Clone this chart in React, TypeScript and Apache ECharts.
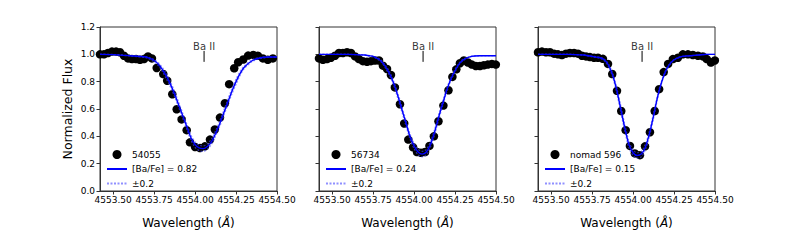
import React, { useEffect, useRef } from "react";
import * as echarts from "echarts";

// ---------- data ----------
const X_TICKS = [4553.5, 4553.75, 4554.0, 4554.25, 4554.5];
const BA_II_WAVE = 4554.055;

const MODEL_WAVE = [
  4553.42, 4553.5, 4553.6, 4553.7, 4553.725, 4553.75, 4553.775, 4553.8, 4553.825, 4553.85,
  4553.875, 4553.9, 4553.925, 4553.95, 4553.975, 4554.0, 4554.025, 4554.05, 4554.075, 4554.1,
  4554.125, 4554.15, 4554.175, 4554.2, 4554.225, 4554.25, 4554.275, 4554.3, 4554.35, 4554.4,
  4554.45, 4554.5,
];

// Panel 1: 54055
const OBS1_WAVE = [
  4553.42, 4553.444, 4553.469, 4553.493, 4553.518, 4553.542, 4553.566, 4553.591, 4553.615, 4553.64,
  4553.664, 4553.688, 4553.713, 4553.737, 4553.766, 4553.806, 4553.83, 4553.861, 4553.888, 4553.918,
  4553.949, 4553.969, 4554.0, 4554.03, 4554.06, 4554.091, 4554.121, 4554.152, 4554.182, 4554.208,
  4554.239, 4554.263, 4554.294, 4554.324, 4554.355, 4554.383, 4554.414, 4554.444, 4554.475,
];
const OBS1_FLUX = [
  1.0, 1.0, 1.01, 1.02, 1.02, 1.015, 0.99, 0.97, 0.965, 0.965,
  0.96, 0.965, 0.985, 0.97, 0.9, 0.856, 0.807, 0.708, 0.598, 0.524,
  0.445, 0.356, 0.322, 0.315, 0.327, 0.376, 0.45, 0.537, 0.642, 0.782,
  0.898, 0.942, 0.962, 0.991, 0.996, 0.99, 0.97, 0.96, 0.97,
];
const MODEL1 = [
  1.0, 0.998, 0.99, 0.98, 0.97, 0.955, 0.93, 0.89, 0.84, 0.78,
  0.71, 0.63, 0.55, 0.47, 0.39, 0.34, 0.315, 0.31, 0.325, 0.36,
  0.42, 0.49, 0.57, 0.65, 0.73, 0.8, 0.86, 0.905, 0.955, 0.975,
  0.98, 0.98,
];
const BAND1_HI = [
  1.0, 0.999, 0.992, 0.983, 0.975, 0.962, 0.94, 0.905, 0.86, 0.8,
  0.73, 0.65, 0.57, 0.49, 0.41, 0.36, 0.335, 0.33, 0.345, 0.38,
  0.44, 0.51, 0.59, 0.67, 0.75, 0.82, 0.875, 0.915, 0.962, 0.978,
  0.982, 0.982,
];
const BAND1_LO = [
  1.0, 0.997, 0.988, 0.975, 0.963, 0.945, 0.918, 0.875, 0.82, 0.76,
  0.69, 0.61, 0.53, 0.45, 0.37, 0.32, 0.295, 0.29, 0.305, 0.34,
  0.4, 0.47, 0.55, 0.63, 0.71, 0.78, 0.845, 0.895, 0.948, 0.97,
  0.978, 0.978,
];

// Panel 2: 56734
const OBS2_WAVE = [
  4553.42, 4553.444, 4553.469, 4553.493, 4553.518, 4553.542, 4553.566, 4553.591, 4553.615, 4553.64,
  4553.664, 4553.688, 4553.713, 4553.737, 4553.762, 4553.786, 4553.81, 4553.835, 4553.859, 4553.883,
  4553.914, 4553.94, 4553.965, 4553.994, 4554.018, 4554.042, 4554.067, 4554.094, 4554.121, 4554.149,
  4554.179, 4554.21, 4554.234, 4554.258, 4554.28, 4554.304, 4554.329, 4554.353, 4554.377, 4554.402,
  4554.426, 4554.45, 4554.475, 4554.499,
];
const OBS2_FLUX = [
  0.97, 0.96, 0.965, 0.975, 0.99, 1.01, 1.01, 1.015, 1.01, 0.985,
  0.965, 0.95, 0.945, 0.95, 0.955, 0.955, 0.917, 0.893, 0.849, 0.758,
  0.635, 0.494, 0.376, 0.32, 0.285, 0.28, 0.285, 0.33, 0.4, 0.51,
  0.625, 0.737, 0.835, 0.89, 0.935, 0.955, 0.94, 0.925, 0.915, 0.915,
  0.92, 0.925, 0.93, 0.925,
];
const MODEL2 = [
  1.0, 1.0, 1.0, 0.995, 0.99, 0.985, 0.97, 0.95, 0.91, 0.86,
  0.79, 0.7, 0.6, 0.5, 0.4, 0.33, 0.285, 0.27, 0.285, 0.34,
  0.43, 0.54, 0.64, 0.74, 0.82, 0.88, 0.93, 0.96, 0.985, 0.99,
  0.99, 0.99,
];
const BAND2_HI = [
  1.0, 1.0, 1.0, 0.996, 0.992, 0.988, 0.975, 0.957, 0.92, 0.875,
  0.805, 0.72, 0.62, 0.52, 0.42, 0.35, 0.305, 0.29, 0.305, 0.36,
  0.45, 0.56, 0.66, 0.755, 0.83, 0.89, 0.935, 0.965, 0.987, 0.991,
  0.991, 0.991,
];
const BAND2_LO = [
  1.0, 1.0, 0.999, 0.994, 0.988, 0.982, 0.965, 0.943, 0.9, 0.845,
  0.775, 0.68, 0.58, 0.48, 0.38, 0.31, 0.265, 0.25, 0.265, 0.32,
  0.41, 0.52, 0.625, 0.725, 0.81, 0.87, 0.925, 0.955, 0.983, 0.989,
  0.99, 0.99,
];

// Panel 3: nomad 596
const OBS3_WAVE = [
  4553.42, 4553.444, 4553.469, 4553.493, 4553.518, 4553.542, 4553.566, 4553.591, 4553.615, 4553.64,
  4553.664, 4553.688, 4553.713, 4553.737, 4553.762, 4553.786, 4553.816, 4553.847, 4553.873, 4553.902,
  4553.928, 4553.955, 4553.981, 4554.011, 4554.042, 4554.073, 4554.103, 4554.132, 4554.159, 4554.187,
  4554.214, 4554.243, 4554.274, 4554.304, 4554.335, 4554.365, 4554.396, 4554.426, 4554.45, 4554.475,
  4554.499,
];
const OBS3_FLUX = [
  1.015, 1.02, 1.015, 1.015, 1.005, 1.0, 0.995, 1.005, 1.01, 1.01,
  1.005, 0.99, 0.985, 0.98, 0.975, 0.975, 0.967, 0.93, 0.856, 0.733,
  0.585, 0.445, 0.33, 0.275, 0.262, 0.327, 0.43, 0.585, 0.745, 0.87,
  0.93, 0.965, 0.975, 1.0, 1.0, 0.995, 0.99, 0.985, 0.965, 0.94,
  0.955,
];
const MODEL3 = [
  1.0, 1.0, 1.0, 0.995, 0.99, 0.985, 0.98, 0.975, 0.96, 0.92,
  0.85, 0.74, 0.6, 0.46, 0.34, 0.28, 0.26, 0.27, 0.32, 0.42,
  0.55, 0.69, 0.8, 0.88, 0.93, 0.96, 0.975, 0.985, 0.99, 0.995,
  1.0, 1.0,
];
const BAND3_HI = [
  1.0, 1.0, 1.0, 0.996, 0.992, 0.988, 0.983, 0.978, 0.965, 0.93,
  0.865, 0.76, 0.625, 0.485, 0.365, 0.3, 0.28, 0.29, 0.34, 0.44,
  0.57, 0.705, 0.81, 0.885, 0.935, 0.962, 0.977, 0.986, 0.991, 0.995,
  1.0, 1.0,
];
const BAND3_LO = [
  1.0, 1.0, 1.0, 0.994, 0.988, 0.982, 0.977, 0.97, 0.953, 0.91,
  0.835, 0.72, 0.575, 0.435, 0.315, 0.26, 0.24, 0.25, 0.3, 0.4,
  0.53, 0.675, 0.79, 0.875, 0.925, 0.958, 0.973, 0.984, 0.989, 0.995,
  1.0, 1.0,
];

const STAR_NAMES = ["54055", "56734", "nomad 596"];
const BA_FE = ["0.82", "0.24", "0.15"];
const BAND_LABEL = "±0.2";

// ---------- chart ----------
const FONT = "DejaVu Sans";
const AXIS_COLOR = "#333";
const BAND_COLOR = "rgba(70,70,255,0.6)";

const zip = (xs: number[], ys: number[]) => xs.map((x, i) => [x, ys[i]]);

export default function App() {
  const ref = useRef<HTMLDivElement>(null);

  useEffect(() => {
    if (!ref.current) return;
    const chart = echarts.init(ref.current, undefined, { renderer: "svg" });

    const panels = [
      { obsW: OBS1_WAVE, obsF: OBS1_FLUX, model: MODEL1, hi: BAND1_HI, lo: BAND1_LO },
      { obsW: OBS2_WAVE, obsF: OBS2_FLUX, model: MODEL2, hi: BAND2_HI, lo: BAND2_LO },
      { obsW: OBS3_WAVE, obsF: OBS3_FLUX, model: MODEL3, hi: BAND3_HI, lo: BAND3_LO },
    ];
    const lefts = [100, 319, 538];
    const W = 177;
    const TOP = 27;
    const H = 164;

    const grid: any[] = [];
    const xAxis: any[] = [];
    const yAxis: any[] = [];
    const series: any[] = [];
    const legend: any[] = [];
    const hiddenSymbol = { color: "rgba(0,0,0,0)", borderWidth: 0, opacity: 0 };

    panels.forEach((p, i) => {
      grid.push({
        left: lefts[i],
        top: TOP,
        width: W,
        height: H,
        show: true,
        borderColor: AXIS_COLOR,
        borderWidth: 1,
        backgroundColor: "transparent",
      });
      xAxis.push({
        type: "value",
        gridIndex: i,
        min: 4553.42,
        max: 4554.5,
        axisLine: { show: true, onZero: false, lineStyle: { color: AXIS_COLOR, width: 1 } },
        axisTick: { show: true, length: 3.5, customValues: X_TICKS, lineStyle: { color: AXIS_COLOR } },
        axisLabel: {
          show: true,
          customValues: X_TICKS,
          formatter: (v: number) => v.toFixed(2),
          fontSize: 9,
          fontFamily: FONT,
          color: "#000",
          margin: 4,
        },
        splitLine: { show: false },
        name: "Wavelength ({i|Å})",
        nameLocation: "middle",
        nameGap: 26,
        nameTextStyle: {
          fontSize: 12,
          fontFamily: FONT,
          color: "#000",
          rich: { i: { fontStyle: "italic", fontSize: 12, fontFamily: FONT, color: "#000" } },
        },
      });
      yAxis.push({
        type: "value",
        gridIndex: i,
        min: 0,
        max: 1.2,
        interval: 0.2,
        axisLine: { show: true, lineStyle: { color: AXIS_COLOR, width: 1 } },
        axisTick: { show: true, length: 3.5, lineStyle: { color: AXIS_COLOR } },
        axisLabel: {
          show: i === 0,
          formatter: (v: number) => v.toFixed(1),
          fontSize: 9,
          fontFamily: FONT,
          color: "#000",
          margin: 5,
        },
        splitLine: { show: false },
        name: i === 0 ? "Normalized Flux" : "",
        nameLocation: "middle",
        nameGap: 26,
        nameTextStyle: { fontSize: 12.5, fontFamily: FONT, color: "#000" },
      });

      const modelName = `[Ba/Fe] = ${BA_FE[i]}`;
      series.push({
        type: "scatter",
        name: STAR_NAMES[i],
        xAxisIndex: i,
        yAxisIndex: i,
        data: zip(p.obsW, p.obsF),
        symbol: "circle",
        symbolSize: 8.5,
        itemStyle: { color: "#000", opacity: 1 },
        z: 2,
        silent: true,
      });
      [p.hi, p.lo].forEach((b) => {
        series.push({
          type: "line",
          name: BAND_LABEL,
          xAxisIndex: i,
          yAxisIndex: i,
          data: zip(MODEL_WAVE, b),
          smooth: 0.3,
          symbol: "none",
          lineStyle: { color: BAND_COLOR, width: 1.2, type: [2, 1.5] },
          itemStyle: { color: BAND_COLOR },
          z: 3,
          silent: true,
        });
      });
      series.push({
        type: "line",
        name: modelName,
        xAxisIndex: i,
        yAxisIndex: i,
        data: zip(MODEL_WAVE, p.model),
        smooth: 0.3,
        symbol: "none",
        lineStyle: { color: "#0000ff", width: 1.4 },
        itemStyle: { color: "#0000ff" },
        z: 4,
        silent: true,
      });
      // Ba II marker
      series.push({
        type: "line",
        xAxisIndex: i,
        yAxisIndex: i,
        data: [
          [BA_II_WAVE, 0.945],
          [BA_II_WAVE, 1.025],
        ],
        symbol: "none",
        lineStyle: { color: "#000", width: 1 },
        z: 5,
        silent: true,
      });
      series.push({
        type: "scatter",
        xAxisIndex: i,
        yAxisIndex: i,
        data: [[BA_II_WAVE, 1.06]],
        symbolSize: 1,
        itemStyle: { color: "rgba(0,0,0,0)" },
        label: {
          show: true,
          position: "inside",
          formatter: "Ba II",
          fontSize: 10,
          fontFamily: FONT,
          color: "#000",
        },
        z: 5,
        silent: true,
      });

      legend.push({
        left: lefts[i] + 1,
        top: 145,
        orient: "vertical",
        itemWidth: 20,
        itemHeight: 9,
        itemGap: 5.5,
        selectedMode: false,
        textStyle: { fontSize: 9, fontFamily: FONT, color: "#000" },
        data: [
          { name: STAR_NAMES[i] },
          { name: modelName, itemStyle: hiddenSymbol },
          { name: BAND_LABEL, itemStyle: hiddenSymbol },
        ],
      });
    });

    chart.setOption({
      animation: false,
      backgroundColor: "#fff",
      textStyle: { fontFamily: FONT },
      grid,
      xAxis,
      yAxis,
      series,
      legend,
    });

    return () => chart.dispose();
  }, []);

  return (
    <div
      ref={ref}
      style={{ position: "absolute", left: 0, top: 0, width: 800, height: 240, background: "#fff" }}
    />
  );
}
